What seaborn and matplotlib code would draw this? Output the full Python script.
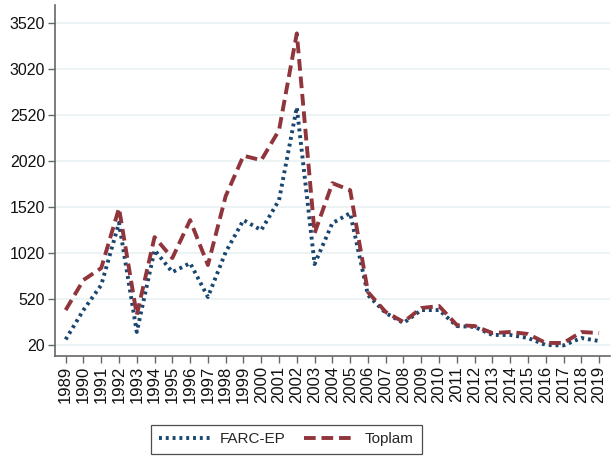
import matplotlib
matplotlib.use('Agg')
import matplotlib.pyplot as plt
import pandas as pd
import seaborn as sns

years = list(range(1989, 2020))
farc_ep = [80, 400, 672, 1350, 161, 1053, 813, 911, 542, 1031, 1379, 1270, 1596, 2607,
           900, 1346, 1455, 563, 368, 259, 400, 400, 226, 216, 129, 129, 96, 20, 15, 96, 63]
toplam = [400, 727, 857, 1509, 346, 1194, 966, 1379, 890, 1640, 2080, 2031, 2357, 3411,
          1237, 1781, 1705, 596, 379, 270, 422, 444, 237, 226, 150, 161, 140, 42, 42, 161, 150]
y_ticks = list(range(20, 3521, 500))

df = pd.DataFrame({'year': years, 'FARC-EP': farc_ep, 'Toplam': toplam})

sns.set_theme(style='white')
plt.rcParams['font.family'] = ['Liberation Sans', 'DejaVu Sans']

fig = plt.figure(figsize=(6.13, 4.57), dpi=100)
ax = fig.add_axes([0.0897, 0.221, 0.905, 0.768])

grid_color = '#eaf2f3'
for t in y_ticks:
    ax.axhline(t, color=grid_color, lw=1.3, zorder=0)

sns.lineplot(data=df, x='year', y='FARC-EP', ax=ax, color='#1a476f', lw=2.8,
             linestyle=(0, (0.75, 1.0)), label='FARC-EP')
sns.lineplot(data=df, x='year', y='Toplam', ax=ax, color='#90353b', lw=2.8,
             linestyle=(0, (3.0, 1.5)), label='Toplam')

ax.set_xlim(1988.4, 2019.6)
ax.set_ylim(-100, 3720)
ax.set_xticks(years)
ax.set_xticklabels([str(y) for y in years], rotation=90, fontsize=12)
ax.set_yticks(y_ticks)
ax.set_yticklabels([str(t) for t in y_ticks], fontsize=11.5)
ax.set_xlabel('')
ax.set_ylabel('')

for side in ['top', 'right']:
    ax.spines[side].set_visible(False)
for side in ['left', 'bottom']:
    ax.spines[side].set_color('#666666')
    ax.spines[side].set_linewidth(1.2)
ax.tick_params(axis='both', which='both', direction='out', length=5, width=1.0,
               color='#666666', labelcolor='#111111', left=True, bottom=True, pad=2)

ax.legend_.remove()
handles, labels = ax.get_legend_handles_labels()
leg = fig.legend(handles, labels, loc='center', bbox_to_anchor=(0.467, 0.039), ncol=2,
                 fontsize=11, frameon=True, fancybox=False, edgecolor='#222222',
                 handlelength=3.4, handletextpad=0.6, columnspacing=1.2,
                 borderpad=0.5, borderaxespad=0)
leg.get_frame().set_linewidth(0.9)

fig.savefig('out.png', dpi=100)
